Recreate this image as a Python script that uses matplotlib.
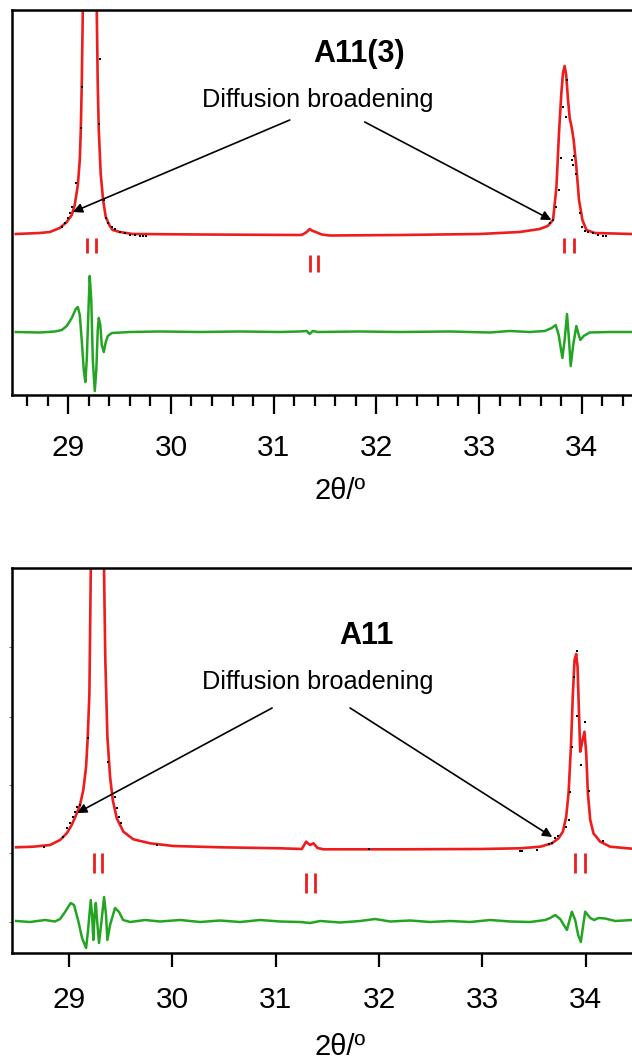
import matplotlib
matplotlib.use("Agg")
import matplotlib.pyplot as plt
from matplotlib.ticker import MultipleLocator

plt.rcParams['font.family'] = ['Liberation Sans', 'DejaVu Sans']

# ---- panel A11(3): calculated profile, observed points, difference, reflections
a113_calc_x = [28.489, 28.722, 28.820, 28.917, 28.985, 29.034, 29.063, 29.093, 29.112, 29.122,
               29.131, 29.141, 29.156, 29.209, 29.268, 29.278, 29.287, 29.297, 29.316, 29.339,
               29.365, 29.404, 29.433, 29.501, 29.628, 30.280, 31.254, 31.283, 31.322, 31.351,
               31.381, 31.410, 31.468, 31.546, 32.228, 33.007, 33.396, 33.591, 33.669, 33.721,
               33.754, 33.779, 33.802, 33.818, 33.834, 33.849, 33.867, 33.883, 33.902, 33.922,
               33.948, 33.974, 34.007, 34.046, 34.127, 34.487]
a113_calc_y = [0, 1, 2, 6, 12, 19, 29, 49, 74, 104,
               149, 219, 400, 900, 420, 219, 149, 104, 60, 34,
               17, 8, 4, 2, 0, -0.5, -1, -0.5, 2, 5,
               3, 2, -0.5, -1.5, -1, 0, 2, 5, 8, 14,
               47, 101, 141, 161, 168, 159, 134, 116, 107, 94,
               67, 34, 14, 4, 1, 0]
a113_obs_x = [29.138, 29.122, 29.080, 29.041, 29.021, 28.998, 28.966, 28.934, 29.307, 29.297,
              29.346, 29.372, 29.388, 29.421, 29.453, 29.501, 29.550, 29.599, 29.648, 29.696,
              29.728, 29.761,
              33.857, 33.818, 33.851, 33.802, 33.922, 33.909, 33.915, 33.948, 33.779, 33.754,
              33.721, 33.695, 33.980, 34.003, 34.029, 34.061, 34.110, 34.159, 34.207, 34.240]
a113_obs_y = [146.7, 105.7, 51.3, 27.3, 20.7, 15.7, 10.7, 7.3, 174.7, 109.7,
              34, 15.7, 11.3, 7.3, 4.7, 2.3, 0.7, -1, -1.3, -1.7,
              -1.7, -1.7,
              154, 127.3, 117.3, 75.7, 78.3, 74, 69, 60, 44, 27.3,
              14, 10.7, 20.7, 7.3, 3.3, 1.7, 0.7, -1, -1.7, -2]
a113_diff_x = [28.489, 28.722, 28.869, 28.937, 28.985, 29.034, 29.073, 29.093, 29.112, 29.131,
               29.151, 29.166, 29.180, 29.200, 29.209, 29.224, 29.239, 29.258, 29.273, 29.287,
               29.297, 29.312, 29.326, 29.346, 29.365, 29.385, 29.424, 29.599, 29.891, 30.280,
               30.670, 31.059, 31.254, 31.322, 31.351, 31.381, 31.430, 31.838, 32.228, 32.715,
               33.104, 33.299, 33.493, 33.640, 33.708, 33.747, 33.776, 33.812, 33.834, 33.857,
               33.873, 33.893, 33.917, 33.948, 33.966, 33.987, 34.019, 34.078, 34.273, 34.487]
a113_diff_y = [0, -0.5, 0.5, 2, 6, 14, 23, 25, 17, -8,
               -38, -50, -28, 32, 56, 32, -28, -59, -38, 2,
               14, 7, -13, -20, -10, -4, -1, 0, 0.5, 0,
               0.5, 0, 0.5, 1, -2, 1, 0, 0.5, 0, 0.5,
               -0.5, 1, 0, 1, 4, 7, -3, -26, -8, 18,
               -3, -34, -13, 6, -1, -8, -4, -0.5, 0, 0]
a113_refl_1 = [29.180, 29.268, 33.828, 33.922]
a113_refl_2 = [31.351, 31.430]

# ---- panel A11
a11_calc_x = [28.487, 28.654, 28.816, 28.913, 28.978, 29.026, 29.068, 29.106, 29.138, 29.165,
              29.181, 29.197, 29.210, 29.223, 29.271, 29.329, 29.339, 29.351, 29.371, 29.397,
              29.423, 29.462, 29.526, 29.622, 29.784, 30.010, 30.462, 31.043, 31.253, 31.275,
              31.294, 31.314, 31.333, 31.365, 31.404, 31.462, 32.204, 32.979, 33.366, 33.560,
              33.673, 33.737, 33.779, 33.811, 33.834, 33.857, 33.876, 33.892, 33.908, 33.921,
              33.934, 33.947, 33.966, 33.988, 34.005, 34.021, 34.044, 34.075, 34.140, 34.237,
              34.450]
a11_calc_y = [0.7, 1.3, 3, 8, 14.7, 23, 33, 43, 58, 81.3,
              111.3, 154.7, 274.7, 600, 1000, 600, 274.7, 188, 111.3, 71.3,
              48, 29.7, 16.3, 8.7, 4.7, 2, 0.7, -0.3, -1, 3,
              6.3, 4.5, 3, 4.7, 0, -1.3, -1.3, -1, -0.3, 1.3,
              4.7, 9.7, 16.3, 31.3, 54.7, 101.3, 154.7, 188, 194, 181.3,
              138, 96.3, 106.3, 116.3, 94.7, 54.7, 28, 14.7, 6.3, 1.3,
              -0.7]
a11_obs_x = [28.761, 28.945, 28.978, 29.010, 29.036, 29.058, 29.080, 29.106, 29.187, 29.380,
             29.445, 29.462, 29.484, 29.500, 29.849, 31.907,
             33.915, 33.882, 33.915, 33.995, 33.866, 33.956, 33.850, 34.034, 33.834, 33.808,
             33.731, 33.705, 33.673, 33.640, 33.366, 33.382, 33.528, 34.172]
a11_obs_y = [1.3, 11.3, 19.7, 24.7, 30.7, 36.3, 41.3, 43, 109.7, 86.3,
             51.3, 39.7, 31.3, 24.7, 3, -1.3,
             197.3, 171.3, 132, 126.3, 100.7, 83, 55.7, 57.3, 28, 21.3,
             12, 9.7, 5.3, 4, -2.7, -2.7, -2, 7.3]
a11_diff_x = [28.487, 28.622, 28.768, 28.864, 28.913, 28.961, 29.016, 29.048, 29.087, 29.126,
              29.165, 29.184, 29.210, 29.223, 29.235, 29.247, 29.259, 29.271, 29.290, 29.310,
              29.339, 29.358, 29.371, 29.397, 29.445, 29.484, 29.523, 29.591, 29.736, 29.881,
              30.075, 30.268, 30.462, 30.655, 30.849, 31.043, 31.236, 31.333, 31.430, 31.623,
              31.817, 31.962, 32.107, 32.301, 32.495, 32.688, 32.882, 33.076, 33.269, 33.463,
              33.608, 33.656, 33.705, 33.753, 33.818, 33.866, 33.898, 33.927, 33.953, 33.976,
              33.995, 34.044, 34.082, 34.124, 34.189, 34.286, 34.450]
a11_diff_y = [0, -1, 1, -0.5, 2, 9, 18, 16, 1, -17,
              -27, -9, 21, 6, -19, 6, 18, 1, -22, -4,
              24, 6, -19, -4, 13, 9, 1, -1, 1, -0.5,
              1, -1, 0.5, -1, 1, -0.5, -1, -2, 0, -1.5,
              0, 2, -0.5, 0.5, -1, 0, -1, 1, -0.5, -1,
              1, 3, 6, 2, -9, 9.3, 1, -14, -21, -4,
              9.3, 3, 1, 3, 2.5, 0, 1]
a11_refl_1 = [29.242, 29.322, 33.898, 33.995]
a11_refl_2 = [31.294, 31.381]

RED = '#ee1c1c'
GREEN = '#23a523'

fig = plt.figure(figsize=(6.32, 10.6), dpi=100)


def draw_panel(ax, calc_x, calc_y, obs_x, obs_y, diff_x, diff_y, refl_1, refl_2,
               diff_offset, row_1, row_2, ylim, xlim):
    ax.plot(calc_x, calc_y, color=RED, lw=1.9, zorder=2)
    ax.plot(obs_x, obs_y, 's', color='black', ms=2.0, mew=0, zorder=3)
    ax.plot(diff_x, [d + diff_offset for d in diff_y], color=GREEN, lw=1.8, zorder=2)
    ax.vlines(refl_1, row_1[0], row_1[1], color=RED, lw=2.0)
    ax.vlines(refl_2, row_2[0], row_2[1], color=RED, lw=2.0)
    ax.set_xlim(*xlim)
    ax.set_ylim(*ylim)
    for side in ['top', 'left', 'bottom']:
        ax.spines[side].set_linewidth(1.8)
    ax.spines['right'].set_visible(False)
    ax.xaxis.set_major_locator(MultipleLocator(1))
    ax.tick_params(axis='x', which='major', direction='out', length=14, width=1.6,
                   pad=14, labelsize=21.5)


def add_notes(ax, title, title_xy, text_xy, arrows):
    ax.text(title_xy[0], title_xy[1], title, ha='center', va='baseline',
            fontsize=22, fontweight='bold')
    ax.text(text_xy[0], text_xy[1], 'Diffusion broadening', ha='center', va='baseline',
            fontsize=18.2)
    for start, head in arrows:
        ax.annotate('', xy=head, xytext=start,
                    arrowprops=dict(arrowstyle='-|>', color='black', lw=1.2,
                                    mutation_scale=14, shrinkA=0, shrinkB=0))


# top panel
ax1 = fig.add_axes([11.7 / 632, 1 - 395 / 1060, 1 - 11.7 / 632, 385 / 1060])
draw_panel(ax1, a113_calc_x, a113_calc_y, a113_obs_x, a113_obs_y, a113_diff_x, a113_diff_y,
           a113_refl_1, a113_refl_2, -98, (-4, -19), (-21, -38), (-161, 224), (28.449, 34.49))
ax1.xaxis.set_minor_locator(MultipleLocator(0.2))
ax1.tick_params(axis='x', which='minor', direction='out', length=8, width=1.6)
ax1.set_yticks([])
add_notes(ax1, 'A11(3)', (31.83, 172), (31.43, 127),
          [((31.157, 114), (29.044, 22)), ((31.887, 112), (33.705, 14))])
fig.text(340 / 632, 1 - 491 / 1060, '2θ/º', ha='center', va='center', fontsize=21)

# bottom panel
ax2 = fig.add_axes([11.7 / 632, 1 - 953 / 1060, 1 - 11.7 / 632, 385 / 1060])
draw_panel(ax2, a11_calc_x, a11_calc_y, a11_obs_x, a11_obs_y, a11_diff_x, a11_diff_y,
           a11_refl_1, a11_refl_2, -73, (-5, -25), (-25, -45), (-105, 280), (28.445, 34.448))
ax2.set_yticks([201, 131, 63, -5, -74])
ax2.tick_params(axis='y', direction='out', length=2, width=0.8, colors='#777777',
                labelleft=False)
ax2.tick_params(axis='x', which='major', length=10)
add_notes(ax2, 'A11', (31.88, 204), (31.41, 159),
          [((30.965, 140), (29.078, 35)), ((31.72, 140), (33.676, 11))])
fig.text(340 / 632, 1 - 1047 / 1060, '2θ/º', ha='center', va='center', fontsize=21)

fig.savefig('out.png', dpi=100)
